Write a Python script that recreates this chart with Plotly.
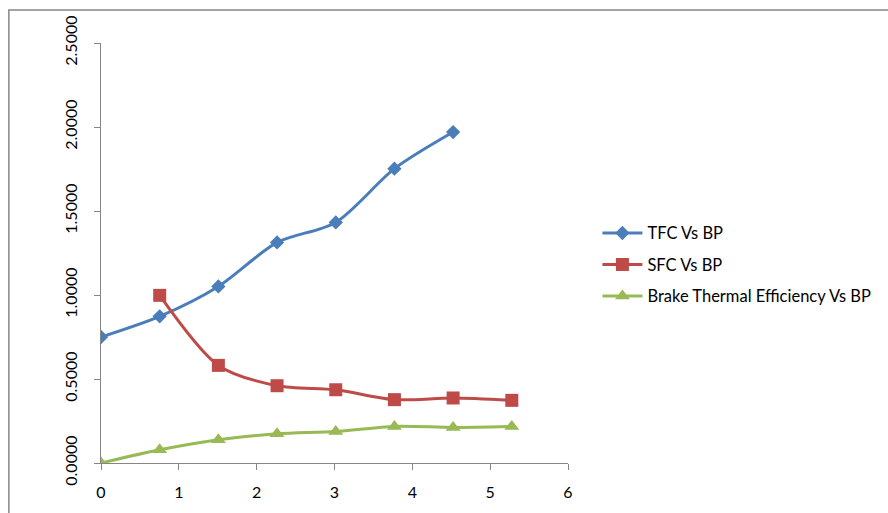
import plotly.graph_objects as go

# Data
bp_tfc = [0, 0.754, 1.508, 2.262, 3.016, 3.770, 4.524]
tfc = [0.750, 0.873, 1.051, 1.313, 1.432, 1.752, 1.970]

bp_sfc = [0.754, 1.508, 2.262, 3.016, 3.770, 4.524, 5.278]
sfc = [0.998, 0.581, 0.460, 0.436, 0.377, 0.387, 0.373]

bp_bte = [0, 0.754, 1.508, 2.262, 3.016, 3.770, 4.524, 5.278]
bte = [0.000, 0.079, 0.139, 0.174, 0.188, 0.218, 0.212, 0.218]

names = ["TFC Vs BP", "SFC Vs BP", "Brake Thermal Efficiency Vs BP"]
colors = ["#4A7EBB", "#BE4B48", "#98B954"]
symbols = ["diamond", "square", "triangle-up"]
msizes = [11, 13, 13]

FONT = "Lato"

fig = go.Figure()
for i, (xs, ys) in enumerate([(bp_tfc, tfc), (bp_sfc, sfc), (bp_bte, bte)]):
    fig.add_trace(go.Scatter(
        x=xs, y=ys, name=names[i], mode="lines+markers",
        line=dict(color=colors[i], width=3, shape="spline", smoothing=0.8),
        marker=dict(symbol=symbols[i], size=msizes[i], color=colors[i]),
        legendgroup=f"g{i}",
    ))

axis_common = dict(
    showgrid=False, zeroline=False, showline=True, linecolor="#868686",
    linewidth=1, ticks="outside", ticklen=6, tickcolor="#868686",
    tickfont=dict(family=FONT, size=16, color="#000000"),
)

fig.update_xaxes(range=[0, 6], dtick=1, tick0=0, ticklabelstandoff=9,
                 **axis_common)
fig.update_yaxes(range=[0, 2.5], dtick=0.5, tick0=0, tickformat=".4f",
                 tickangle=-90, ticklabelstandoff=11, **axis_common)

fig.update_layout(
    width=888, height=513,
    margin=dict(l=101, r=320, t=43, b=50, pad=0, autoexpand=False),
    paper_bgcolor="white", plot_bgcolor="white",
    showlegend=True,
    legend=dict(
        x=1.063, y=0.472, xanchor="left", yanchor="middle",
        font=dict(family=FONT, size=16.5, color="#000000"),
        traceorder="grouped", tracegroupgap=7,
        bgcolor="rgba(0,0,0,0)", itemwidth=40,
    ),
    shapes=[dict(type="rect", xref="paper", yref="paper",
                 x0=-0.1973, x1=2.0, y0=-0.5, y1=1.0785,
                 line=dict(color="#868686", width=1.5), layer="below")],
)

fig.write_html("out.html", config={"displayModeBar": False},
               post_script="document.body.style.margin='0';document.body.style.overflow='hidden';")
